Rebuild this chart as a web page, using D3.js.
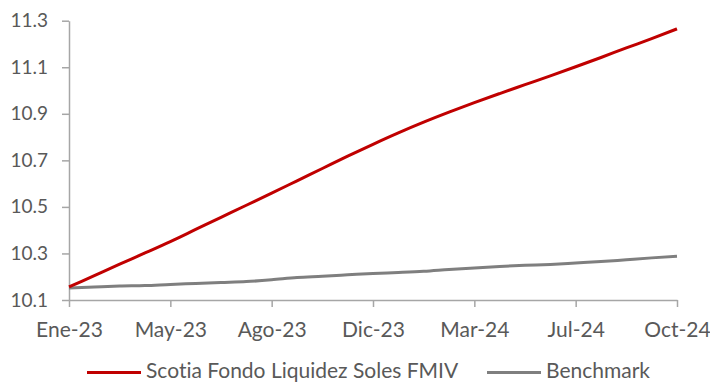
<!DOCTYPE html>
<html>
<head>
<meta charset="utf-8">
<script src="https://cdn.jsdelivr.net/npm/d3@7"></script>
<style>
  html, body { margin: 0; padding: 0; background: #fff; }
  svg { display: block; }
  text { font-family: Lato, "Open Sans", sans-serif; fill: #595959; font-variant-ligatures: none; }
</style>
</head>
<body>
<svg id="chart" width="710" height="383"></svg>
<script>
// Valor cuota (S/.) — fondo vs. benchmark, observaciones quincenales
const fundName = "Scotia Fondo Liquidez Soles FMIV";
const benchName = "Benchmark";
const fundValues = [
  10.156, 10.205, 10.254, 10.302, 10.351, 10.403, 10.455, 10.507, 10.559,
  10.612, 10.665, 10.718, 10.769, 10.818, 10.864, 10.907, 10.948, 10.987,
  11.025, 11.063, 11.102, 11.142, 11.183, 11.223, 11.265
];
const benchValues = [
  10.152, 10.156, 10.160, 10.162, 10.167, 10.171, 10.175, 10.179, 10.187,
  10.197, 10.202, 10.208, 10.214, 10.218, 10.223, 10.231, 10.238, 10.244,
  10.249, 10.253, 10.259, 10.265, 10.273, 10.281, 10.288
];
const xTickLabels = ["Ene-23", "May-23", "Ago-23", "Dic-23", "Mar-24", "Jul-24", "Oct-24"];
const yTicks = [10.1, 10.3, 10.5, 10.7, 10.9, 11.1, 11.3];

const svg = d3.select("#chart");
const plotLeft = 69, plotRight = 677, plotTop = 20.7, plotBottom = 300;
const axisColor = "#a6a6a6";
const textColor = "#595959";

const n = fundValues.length;
const x = d3.scaleLinear().domain([0, n - 1]).range([plotLeft, plotRight]);
const y = d3.scaleLinear().domain([10.1, 11.3]).range([plotBottom, plotTop]);
const step = (n - 1) / (xTickLabels.length - 1);

// Y axis
const yAxis = svg.append("g")
  .attr("transform", `translate(${plotLeft},0)`)
  .call(d3.axisLeft(y).tickValues(yTicks).tickFormat(d3.format(".1f")).tickSize(7).tickSizeOuter(0).tickPadding(14));
yAxis.select(".domain").attr("stroke", axisColor).attr("stroke-width", 1.5);
yAxis.selectAll(".tick line").attr("stroke", axisColor).attr("stroke-width", 1.5);
yAxis.selectAll(".tick text").attr("font-size", 19).attr("fill", textColor)
  .attr("font-family", null);

// X axis
const xAxis = svg.append("g")
  .attr("transform", `translate(0,${plotBottom})`)
  .call(d3.axisBottom(x)
    .tickValues(xTickLabels.map((_, i) => i * step))
    .tickFormat((d, i) => xTickLabels[i])
    .tickSize(7).tickSizeOuter(0).tickPadding(15));
xAxis.select(".domain").attr("stroke", axisColor).attr("stroke-width", 1.5);
xAxis.selectAll(".tick line").attr("stroke", axisColor).attr("stroke-width", 1.5);
xAxis.selectAll(".tick text").attr("font-size", 21).attr("fill", textColor)
  .attr("font-family", null);

// Lines
const line = d3.line().x((d, i) => x(i)).y(d => y(d)).curve(d3.curveMonotoneX);
svg.append("path").datum(benchValues)
  .attr("fill", "none").attr("stroke", "#7f7f7f").attr("stroke-width", 3)
  .attr("stroke-linejoin", "round").attr("d", line);
svg.append("path").datum(fundValues)
  .attr("fill", "none").attr("stroke", "#c00000").attr("stroke-width", 3)
  .attr("stroke-linejoin", "round").attr("d", line);

// Legend
const legendY = 372.5;
const legend = [
  { name: fundName, color: "#c00000", x0: 87 },
  { name: benchName, color: "#7f7f7f", x0: 487 }
];
legend.forEach(l => {
  svg.append("line").attr("x1", l.x0).attr("x2", l.x0 + 54)
    .attr("y1", legendY).attr("y2", legendY)
    .attr("stroke", l.color).attr("stroke-width", 3);
  svg.append("text").attr("x", l.x0 + 59).attr("y", 377.5)
    .attr("font-size", 21).text(l.name);
});
</script>
</body>
</html>
